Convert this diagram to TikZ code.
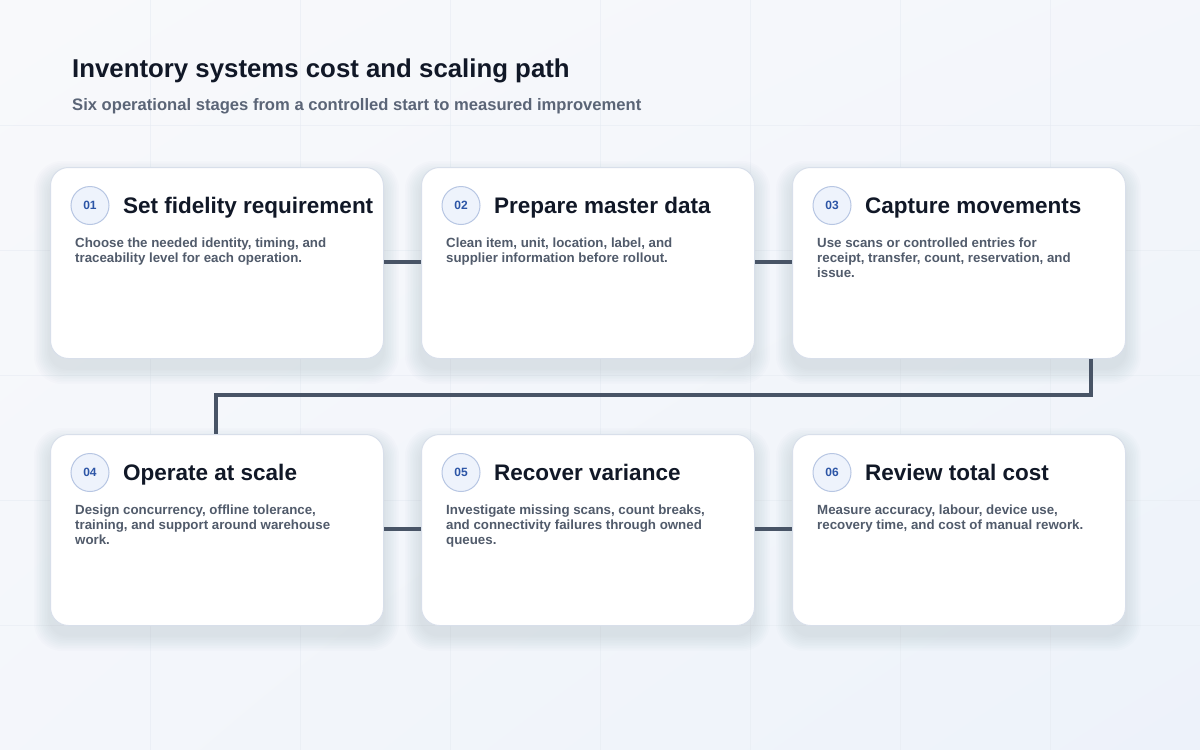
\documentclass[tikz,border=0pt]{standalone}
\usepackage{fontspec}
\setmainfont{Liberation Sans}
\usetikzlibrary{shadings}
\definecolor{bgA}{HTML}{F8F9FB}
\definecolor{bgB}{HTML}{EDF2FA}
\definecolor{gridc}{HTML}{E6EBF2}
\definecolor{cardborder}{HTML}{D8DFEA}
\definecolor{conn}{HTML}{485466}
\definecolor{titlec}{HTML}{111827}
\definecolor{subc}{HTML}{5B6577}
\definecolor{descc}{HTML}{515B6B}
\definecolor{numfill}{HTML}{EEF3FC}
\definecolor{numborder}{HTML}{B7C6E3}
\definecolor{numtext}{HTML}{2C55A6}
\definecolor{shadowc}{HTML}{3A4A6B}
\colorlet{bgM}{bgA!60!bgB}
\tikzset{
  card/.style={draw=cardborder, line width=1pt, fill=white, rounded corners=18pt,
    minimum width=333pt, minimum height=191pt, anchor=north west, inner sep=0pt},
  numcirc/.style={circle, draw=numborder, line width=1pt, fill=numfill, minimum size=38pt, inner sep=0pt,
    text=numtext, font=\bfseries\fontsize{12}{14}\selectfont},
  cardtitle/.style={anchor=base west, inner sep=0pt, text=titlec, font=\bfseries\fontsize{22.5}{26}\selectfont},
  carddesc/.style={anchor=base west, inner sep=0pt, text=descc, font=\bfseries\fontsize{13.3}{15}\selectfont},
  link/.style={draw=conn, line width=3.5pt},
}
\newcommand{\desctext}[1]{\parbox[t]{310pt}{\raggedright #1}}
\newcommand{\cardshadow}[2]{%
  \foreach \s in {1,...,10}{%
    \fill[shadowc, opacity=0.012, rounded corners={18pt+\s pt}]
      (#1-\s*1.6, #2+10-\s*1.6) rectangle (#1+333+\s*1.6, #2+191+10+\s*1.6);
  }%
}
\begin{document}
\begin{tikzpicture}[x=1pt,y=-1pt]
\useasboundingbox (0,0) rectangle (1200,750);
\shade[upper left=bgA, upper right=bgM, lower left=bgM, lower right=bgB] (0,0) rectangle (1200,750);
\foreach \gx in {150,300,...,1050} \draw[gridc, line width=0.8pt, opacity=0.55] (\gx,0) -- (\gx,750);
\foreach \gy in {125,250,...,625} \draw[gridc, line width=0.8pt, opacity=0.55] (0,\gy) -- (1200,\gy);

\node[anchor=base west, inner sep=0pt, text=titlec, font=\bfseries\fontsize{25.8}{30}\selectfont] (title) at (72,77) {Inventory systems cost and scaling path};
\node[anchor=base west, inner sep=0pt, text=subc, font=\bfseries\fontsize{16.6}{19}\selectfont] (subtitle) at (72,110) {Six operational stages from a controlled start to measured improvement};

% shadows
\cardshadow{50}{167}\cardshadow{421}{167}\cardshadow{792}{167}
\cardshadow{50}{434}\cardshadow{421}{434}\cardshadow{792}{434}

% cards
\node[card] (c1) at (50,167) {};
\node[card] (c2) at (421,167) {};
\node[card] (c3) at (792,167) {};
\node[card] (c4) at (50,434) {};
\node[card] (c5) at (421,434) {};
\node[card] (c6) at (792,434) {};

% connectors
\coordinate (b1) at (1091,395);
\coordinate (b2) at (216,395);
\draw[link] (c1.east |- 0,262) -- (c2.west |- 0,262);
\draw[link] (c2.east |- 0,262) -- (c3.west |- 0,262);
\draw[link, line join=miter] (c3.south -| b1) -- (b1) -- (b2) -- (c4.north -| b2);
\draw[link] (c4.east |- 0,529) -- (c5.west |- 0,529);
\draw[link] (c5.east |- 0,529) -- (c6.west |- 0,529);

% card 1
\node[numcirc] (n1) at (90,205.5) {01};
\node[cardtitle] (t1) at (123,213) {Set fidelity requirement};
\node[carddesc] (d1) at (75,247) {\desctext{Choose the needed identity, timing, and\\traceability level for each operation.}};
% card 2
\node[numcirc] (n2) at (461,205.5) {02};
\node[cardtitle] (t2) at (494,213) {Prepare master data};
\node[carddesc] (d2) at (446,247) {\desctext{Clean item, unit, location, label, and\\supplier information before rollout.}};
% card 3
\node[numcirc] (n3) at (832,205.5) {03};
\node[cardtitle] (t3) at (865,213) {Capture movements};
\node[carddesc] (d3) at (817,247) {\desctext{Use scans or controlled entries for\\receipt, transfer, count, reservation, and\\issue.}};
% card 4
\node[numcirc] (n4) at (90,472.5) {04};
\node[cardtitle] (t4) at (123,480) {Operate at scale};
\node[carddesc] (d4) at (75,514) {\desctext{Design concurrency, offline tolerance,\\training, and support around warehouse\\work.}};
% card 5
\node[numcirc] (n5) at (461,472.5) {05};
\node[cardtitle] (t5) at (494,480) {Recover variance};
\node[carddesc] (d5) at (446,514) {\desctext{Investigate missing scans, count breaks,\\and connectivity failures through owned\\queues.}};
% card 6
\node[numcirc] (n6) at (832,472.5) {06};
\node[cardtitle] (t6) at (865,480) {Review total cost};
\node[carddesc] (d6) at (817,514) {\desctext{Measure accuracy, labour, device use,\\recovery time, and cost of manual rework.}};
\end{tikzpicture}
\end{document}
